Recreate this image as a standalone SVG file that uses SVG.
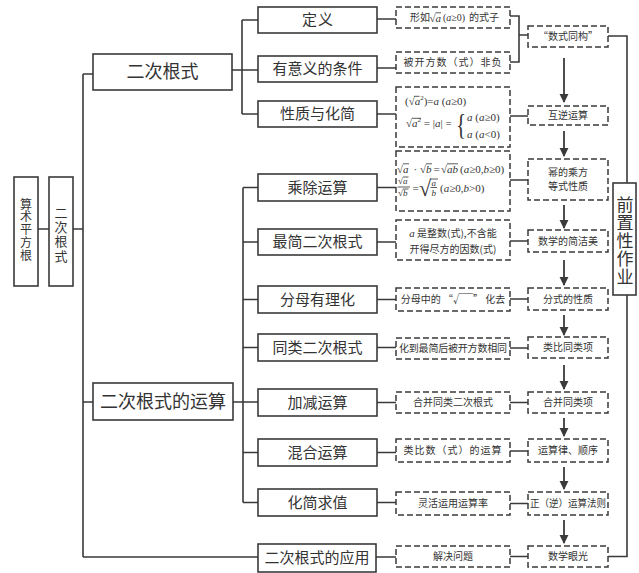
<svg xmlns="http://www.w3.org/2000/svg" width="639" height="573" viewBox="0 0 639 573">
<style>
.bg{fill:#fff}
.box{fill:#fff;stroke:#3a3a3a;stroke-width:1.6}
.dbox{fill:#fff;stroke:#3a3a3a;stroke-width:1.5;stroke-dasharray:6 3}
.ln{fill:none;stroke:#3a3a3a;stroke-width:1.6}
.ar{fill:none;stroke:#3a3a3a;stroke-width:1.8}
text{font-family:"Noto Sans CJK SC","Noto Sans",sans-serif;fill:#333;text-anchor:middle}
.t18{font-size:18px}
.t15{font-size:15px}
.t10{font-size:10px}
.vt{writing-mode:vertical-rl}
.m{font-family:"Liberation Serif","DejaVu Serif",serif;font-size:11px;text-anchor:start}
.i{font-style:italic}
.bar{stroke:#333;stroke-width:0.8}
</style>
<defs>
<marker id="ah" viewBox="0 0 10 10" refX="9" refY="5" markerWidth="5" markerHeight="6" markerUnits="strokeWidth" orient="auto">
<path d="M0,0 L10,5 L0,10 z" fill="#3a3a3a"/>
</marker>
</defs>
<rect class="bg" x="0" y="0" width="639" height="573"/>

<g id="connectors">
<path class="ln" d="M38 229 H49 M73 229 H83 M83 74 V557 M83 74 H93 M83 402 H93 M83 557 H258"/>
<path class="ln" d="M232 70 H258 M242 20 V114 M242 20 H258 M242 114 H258"/>
<path class="ln" d="M233 402 H258 M243 187.5 V502.5 M243 187.5 H258 M243 242 H258 M243 299.5 H258 M243 347.5 H258 M243 452.5 H258 M243 502.5 H258"/>
<path class="ln" d="M377 19 H396 M377 68 H396 M377 114 H396 M377 187.5 H396 M377 242 H396 M377 299.5 H396 M377 347.5 H396 M377 402.5 H396 M377 452.5 H396 M377 502.5 H396 M376 557 H396"/>
<path class="ln" d="M510 16 H519 V62 H510 M519 35 H528"/>
<path class="ln" d="M510 116 H528 M510 180 H528 M510 241 H528 M510 299 H528 M510 348 H528 M510 402.5 H528 M510 451 H528 M510 503.5 H528 M510 556.5 H528"/>
<path class="ln" d="M608 36 H627 V556.5 H608"/>
<path class="ar" marker-end="url(#ah)" d="M564 58 V102"/>
<path class="ar" marker-end="url(#ah)" d="M564 131 V156"/>
<path class="ar" marker-end="url(#ah)" d="M564 205 V228"/>
<path class="ar" marker-end="url(#ah)" d="M564 260 V285"/>
<path class="ar" marker-end="url(#ah)" d="M564 315 V335"/>
<path class="ar" marker-end="url(#ah)" d="M564 365 V389"/>
<path class="ar" marker-end="url(#ah)" d="M564 418 V436"/>
<path class="ar" marker-end="url(#ah)" d="M564 467 V489"/>
<path class="ar" marker-end="url(#ah)" d="M564 520 V543"/>
</g>

<g id="n-suanshu"><rect class="box" x="14" y="177" width="24" height="109"/>
<text class="vt" x="26" y="230" style="font-size:12px;letter-spacing:0.8px">算术平方根</text></g>
<g id="n-ercigenshi-v"><rect class="box" x="49" y="177" width="24" height="109"/>
<text class="vt" x="61" y="235" style="font-size:13px;letter-spacing:1.3px">二次根式</text></g>

<g id="n-ercigenshi"><rect class="box" x="93" y="54" width="139" height="36"/><text class="t18" x="162.5" y="78.3">二次根式</text></g>
<g id="n-yunsuan"><rect class="box" x="93" y="383" width="140" height="37"/><text class="t18" x="163" y="407.8">二次根式的运算</text></g>

<g id="n-dingyi"><rect class="box" x="258" y="7" width="119" height="26"/><text class="t15" x="318" y="25.3" letter-spacing="1">定义</text></g>
<g id="n-youyiyi"><rect class="box" x="258" y="56" width="119" height="26"/><text class="t15" x="317.5" y="74.3">有意义的条件</text></g>
<g id="n-xingzhi"><rect class="box" x="258" y="101" width="119" height="26"/><text class="t15" x="317.5" y="119.3">性质与化简</text></g>
<g id="n-chengchu"><rect class="box" x="258" y="174" width="119" height="27"/><text class="t15" x="317.5" y="192.8">乘除运算</text></g>
<g id="n-zuijian"><rect class="box" x="258" y="229" width="119" height="26"/><text class="t15" x="317.5" y="247.3">最简二次根式</text></g>
<g id="n-fenmu"><rect class="box" x="258" y="286" width="119" height="27"/><text class="t15" x="317.5" y="304.8">分母有理化</text></g>
<g id="n-tonglei"><rect class="box" x="258" y="334" width="119" height="27"/><text class="t15" x="317.5" y="352.8">同类二次根式</text></g>
<g id="n-jiajian"><rect class="box" x="258" y="389" width="119" height="27"/><text class="t15" x="317.5" y="407.8">加减运算</text></g>
<g id="n-hunhe"><rect class="box" x="258" y="439" width="119" height="27"/><text class="t15" x="317.5" y="457.8">混合运算</text></g>
<g id="n-huajian"><rect class="box" x="258" y="489" width="119" height="27"/><text class="t15" x="317.5" y="507.8">化简求值</text></g>
<g id="n-yingyong"><rect class="box" x="258" y="544" width="118" height="28"/><text class="t15" x="317" y="563.3">二次根式的应用</text></g>

<g id="d-xingru"><rect class="dbox" x="396" y="7" width="114" height="21"/>
<text class="t10" x="420" y="21">形如</text>
<text class="m" x="429.5" y="21.5">√<tspan class="i">a</tspan></text>
<line class="bar" x1="435.5" y1="12.8" x2="441" y2="12.8"/>
<text class="m" x="443" y="21" style="font-size:10px">(<tspan class="i">a</tspan>≥0)</text>
<text class="t10" x="484" y="21">的式子</text></g>
<g id="d-beikaifang"><rect class="dbox" x="396" y="52" width="114" height="21"/><text class="t10" x="453" y="66" letter-spacing="1">被开方数（式）非负</text></g>

<g id="d-formula1"><rect class="dbox" x="396" y="87" width="114" height="60"/>
<text class="m" x="405" y="105">(√<tspan class="i">a</tspan><tspan font-size="7" dy="-5">2</tspan><tspan dy="5">)=</tspan><tspan class="i">a</tspan> (<tspan class="i">a</tspan>≥0)</text>
<line class="bar" x1="414" y1="96.3" x2="419.5" y2="96.3"/>
<text class="m" x="406" y="127">√<tspan class="i">a</tspan><tspan font-size="7" dy="-5">2</tspan><tspan dy="5"> = |</tspan><tspan class="i">a</tspan>| =</text>
<line class="bar" x1="412" y1="118.3" x2="421" y2="118.3"/>
<text class="m" transform="translate(456 134) scale(0.7 1)" x="0" y="0" style="font-size:30px">{</text>
<text class="m" x="467" y="120.5"><tspan class="i">a</tspan> (<tspan class="i">a</tspan>≥0)</text>
<text class="m" x="467" y="137.5"><tspan class="i">a</tspan> (<tspan class="i">a</tspan>&lt;0)</text></g>

<g id="d-formula2"><rect class="dbox" x="396" y="151" width="114" height="60"/>
<text class="m" x="397" y="172.5">√</text><text class="m i" x="403" y="172.5">a</text>
<line class="bar" x1="403" y1="163.8" x2="409" y2="163.8"/>
<text class="m" x="413.5" y="172.5">·</text>
<text class="m" x="420" y="172.5">√</text><text class="m i" x="426" y="172.5">b</text>
<line class="bar" x1="426" y1="163.8" x2="432" y2="163.8"/>
<text class="m" x="433.5" y="172.5">=</text>
<text class="m" x="441" y="172.5">√</text><text class="m i" x="447" y="172.5">ab</text>
<line class="bar" x1="447" y1="163.8" x2="458" y2="163.8"/>
<text class="m" x="460" y="172.5">(<tspan class="i">a</tspan>≥0,<tspan class="i">b</tspan>≥0)</text>
<text class="m" x="398" y="184" style="font-size:9px">√<tspan class="i">a</tspan></text>
<line class="bar" x1="403" y1="177" x2="408.5" y2="177"/>
<line class="bar" x1="397.5" y1="187" x2="410" y2="187"/>
<text class="m" x="398" y="196" style="font-size:9px">√<tspan class="i">b</tspan></text>
<line class="bar" x1="403" y1="189" x2="408.5" y2="189"/>
<text class="m" x="412.5" y="191.5">=</text>
<text class="m" x="419" y="196" style="font-size:22px">√</text>
<line class="bar" x1="430" y1="179" x2="438" y2="179"/>
<text class="m i" x="431.5" y="185.5" style="font-size:9px">a</text>
<line class="bar" x1="430.5" y1="187.5" x2="437" y2="187.5"/>
<text class="m i" x="431.5" y="196" style="font-size:9px">b</text>
<text class="m" x="440" y="191.5">(<tspan class="i">a</tspan>≥0,<tspan class="i">b</tspan>&gt;0)</text></g>

<g id="d-zuijian"><rect class="dbox" x="396" y="220" width="114" height="40"/>
<text class="t10" x="453" y="236.5"><tspan class="i" font-family="Liberation Serif" font-size="11">a</tspan> 是整数(式),不含能</text>
<text class="t10" x="453" y="252.5">开得尽方的因数(式)</text></g>
<g id="d-fenmu"><rect class="dbox" x="396" y="288" width="114" height="23"/><text class="t10" x="453" y="303">分母中的 “√￣” 化去</text></g>
<g id="d-tonglei"><rect class="dbox" x="396" y="338" width="114" height="21"/><text class="t10" x="453" y="352" textLength="108" lengthAdjust="spacing">化到最简后被开方数相同</text></g>
<g id="d-hebing"><rect class="dbox" x="396" y="392" width="114" height="21"/><text class="t10" x="453" y="406">合并同类二次根式</text></g>
<g id="d-leibi"><rect class="dbox" x="396" y="439" width="114" height="23"/><text class="t10" x="453" y="454" letter-spacing="1">类比数（式）的运算</text></g>
<g id="d-linghuo"><rect class="dbox" x="396" y="492" width="114" height="23"/><text class="t10" x="453" y="507">灵活运用运算率</text></g>
<g id="d-jiejue"><rect class="dbox" x="396" y="546" width="114" height="21"/><text class="t10" x="453" y="560">解决问题</text></g>

<g id="r-shushi"><rect class="dbox" x="528" y="26" width="80" height="21"/><text class="t10" x="568" y="40">“数式同构”</text></g>
<g id="r-huni"><rect class="dbox" x="528" y="106" width="80" height="19"/><text class="t10" x="568" y="119">互逆运算</text></g>
<g id="r-mi"><rect class="dbox" x="528" y="159" width="80" height="41"/><text class="t10" x="568" y="176">幂的乘方</text><text class="t10" x="568" y="190">等式性质</text></g>
<g id="r-jianjie"><rect class="dbox" x="528" y="230" width="80" height="22"/><text class="t10" x="568" y="244.5">数学的简洁美</text></g>
<g id="r-fenshi"><rect class="dbox" x="528" y="288" width="80" height="22"/><text class="t10" x="568" y="302.5">分式的性质</text></g>
<g id="r-leibi"><rect class="dbox" x="528" y="337" width="80" height="21"/><text class="t10" x="568" y="351">类比同类项</text></g>
<g id="r-hebing"><rect class="dbox" x="528" y="392" width="80" height="21"/><text class="t10" x="568" y="406">合并同类项</text></g>
<g id="r-yunsuanlv"><rect class="dbox" x="528" y="439" width="80" height="23"/><text class="t10" x="568" y="454">运算律、顺序</text></g>
<g id="r-zhengni"><rect class="dbox" x="528" y="492" width="80" height="23"/><text class="t10" x="568" y="507" textLength="76" lengthAdjust="spacingAndGlyphs">正（逆）运算法则</text></g>
<g id="r-yanguang"><rect class="dbox" x="528" y="546" width="80" height="21"/><text class="t10" x="568" y="560">数学眼光</text></g>

<g id="n-qianzhi"><rect class="box" x="613" y="183" width="23" height="112"/>
<text class="vt" x="625" y="241" style="font-size:17px;letter-spacing:1px">前置性作业</text></g>
</svg>
